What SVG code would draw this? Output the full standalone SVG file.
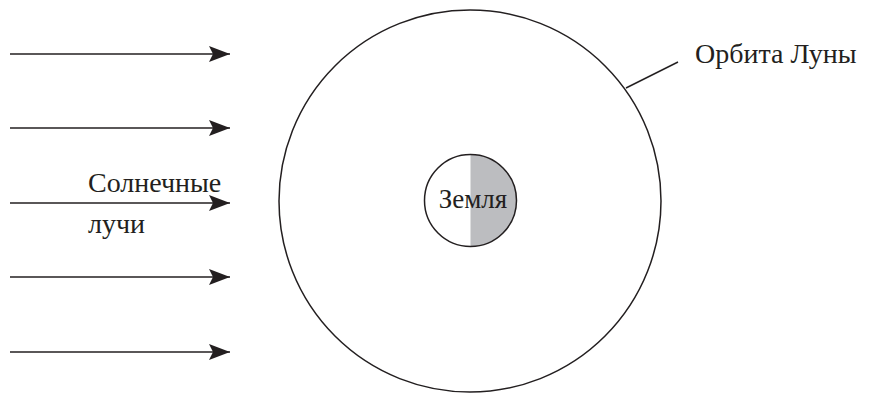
<svg xmlns="http://www.w3.org/2000/svg" width="869" height="393" viewBox="0 0 869 393">
<style>
.t{font-family:"Liberation Serif","Times New Roman",serif;font-size:28px;fill:#231f20}
.ln{stroke:#231f20;stroke-width:1.5;fill:none}
</style>
<defs>
<marker id="ah" markerUnits="userSpaceOnUse" markerWidth="24" markerHeight="20" refX="21" refY="9" orient="auto">
<path d="M0,1 L21,9 L0,17 L4,9 Z" fill="#231f20"/>
</marker>
</defs>
<rect width="869" height="393" fill="#fff"/>
<g id="connectors">
<line class="ln" x1="10" y1="54" x2="230" y2="54" marker-end="url(#ah)"/>
<line class="ln" x1="10" y1="128" x2="230" y2="128" marker-end="url(#ah)"/>
<line class="ln" x1="10" y1="203" x2="230" y2="203" marker-end="url(#ah)"/>
<line class="ln" x1="10" y1="277" x2="230" y2="277" marker-end="url(#ah)"/>
<line class="ln" x1="10" y1="352" x2="230" y2="352" marker-end="url(#ah)"/>
<line class="ln" x1="626" y1="88" x2="678" y2="62"/>
</g>
<g id="orbit">
<circle class="ln" cx="470" cy="201" r="191"/>
<text class="t" x="695" y="63">Орбита Луны</text>
</g>
<g id="earth">
<path d="M470.5,154.5 A46,46 0 0 1 470.5,246.5 Z" fill="#bcbdc0"/>
<circle class="ln" cx="470.5" cy="200.5" r="46"/>
<text class="t" x="473" y="208" text-anchor="middle" style="font-size:27px">Земля</text>
</g>
<g id="sun-label">
<text class="t" x="88" y="192">Солнечные</text>
<text class="t" x="88" y="233">лучи</text>
</g>
</svg>
